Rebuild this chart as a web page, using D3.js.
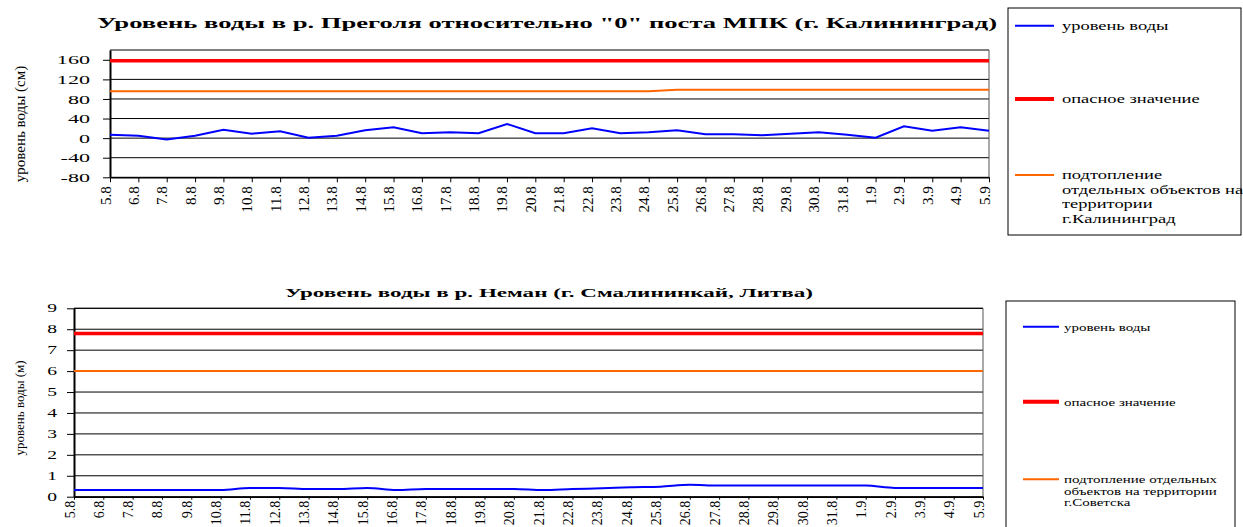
<!DOCTYPE html>
<html>
<head>
<meta charset="utf-8">
<script src="https://cdn.jsdelivr.net/npm/d3@7"></script>
<style>
  body { margin: 0; background: #fff; }
  svg text { font-family: "Liberation Serif", "Times New Roman", serif; fill: #000; }
</style>
</head>
<body>
<script>
const width = 1243,
    height = 527;
const serif = "'Liberation Serif', 'Times New Roman', serif";

// даты наблюдений (ось X одинаковая для обоих графиков)
const dates = ["5.8", "6.8", "7.8", "8.8", "9.8", "10.8", "11.8", "12.8", "13.8", "14.8", "15.8",
  "16.8", "17.8", "18.8", "19.8", "20.8", "21.8", "22.8", "23.8", "24.8", "25.8", "26.8",
  "27.8", "28.8", "29.8", "30.8", "31.8", "1.9", "2.9", "3.9", "4.9", "5.9"];

// р. Преголя, см
const pregolyaLevel = [7, 5, -3, 5, 17, 9, 14, 1, 5, 16, 22, 10, 12, 10, 29, 10, 10, 20, 10, 12, 16, 8,
  8, 6, 9, 12, 7, 1, 24, 15, 22, 15];
const pregolyaDanger = [158, 158, 158, 158, 158, 158, 158, 158, 158, 158, 158, 158, 158, 158, 158, 158,
  158, 158, 158, 158, 158, 158, 158, 158, 158, 158, 158, 158, 158, 158, 158, 158];
const pregolyaFlood = [96, 96, 96, 96, 96, 96, 96, 96, 96, 96, 96, 96, 96, 96, 96, 96, 96, 96, 96, 96,
  99, 99, 99, 99, 99, 99, 99, 99, 99, 99, 99, 99];
const pregolyaTicks = [-80, -40, 0, 40, 80, 120, 160];

// р. Неман, м
const nemanLevel = [0.32, 0.32, 0.32, 0.32, 0.32, 0.32, 0.42, 0.42, 0.37, 0.37, 0.42, 0.32, 0.37, 0.37,
  0.37, 0.37, 0.32, 0.37, 0.40, 0.45, 0.48, 0.57, 0.53, 0.53, 0.53, 0.53, 0.53, 0.53, 0.42, 0.42, 0.42, 0.42];
const nemanDanger = [7.8, 7.8, 7.8, 7.8, 7.8, 7.8, 7.8, 7.8, 7.8, 7.8, 7.8, 7.8, 7.8, 7.8, 7.8, 7.8,
  7.8, 7.8, 7.8, 7.8, 7.8, 7.8, 7.8, 7.8, 7.8, 7.8, 7.8, 7.8, 7.8, 7.8, 7.8, 7.8];
const nemanFlood = [6, 6, 6, 6, 6, 6, 6, 6, 6, 6, 6, 6, 6, 6, 6, 6, 6, 6, 6, 6, 6, 6, 6, 6, 6, 6, 6, 6, 6, 6, 6, 6];
const nemanTicks = [0, 1, 2, 3, 4, 5, 6, 7, 8, 9];

const seriesColors = ["#0000ff", "#ff0000", "#ff6600"];
const pregolyaLegend = [["уровень воды"], ["опасное значение"],
  ["подтопление", "отдельных объектов на", "территории", "г.Калининград"]];
const nemanLegend = [["уровень воды"], ["опасное значение"],
  ["подтопление отдельных", "объектов на территории", "г.Советска"]];

const svg = d3.select("body").append("svg")
    .attr("width", width)
    .attr("height", height);

function drawChart(o) {
  const g = svg.append("g");
  const x = d3.scalePoint().domain(dates).range([o.left, o.right]);
  const y = d3.scaleLinear().domain(o.yDomain).range([o.bottom, o.top]);

  // горизонтальная сетка + верхняя граница
  g.append("g").selectAll("line")
    .data(o.yTicks.concat([o.yDomain[1]]))
    .join("line")
      .attr("x1", o.left).attr("x2", o.right)
      .attr("y1", d => y(d)).attr("y2", d => y(d))
      .attr("stroke", "#000")
      .attr("stroke-width", 1);
  g.append("line")
    .attr("x1", o.right).attr("x2", o.right)
    .attr("y1", o.top).attr("y2", o.bottom)
    .attr("stroke", "#555");

  // ось Y
  const yAxis = g.append("g")
    .attr("transform", `translate(${o.left},0)`)
    .call(d3.axisLeft(y).tickValues(o.yTicks).tickSize(7).tickSizeOuter(0).tickFormat(d => String(d)));
  yAxis.attr("font-family", null).attr("font-size", null);
  yAxis.select(".domain").attr("stroke-width", 2);
  yAxis.selectAll("text")
    .attr("x", 0)
    .style("font-family", serif)
    .style("font-size", o.yFont + "px")
    .attr("transform", `translate(${-o.yGap},0) scale(${o.sx},1)`);

  // ось X
  const xAxis = g.append("g")
    .attr("transform", `translate(0,${o.bottom})`)
    .call(d3.axisBottom(x).tickSize(o.xTick).tickSizeOuter(0));
  xAxis.attr("font-family", null).attr("font-size", null);
  xAxis.select(".domain").attr("stroke-width", 1.5);
  xAxis.selectAll("text")
    .style("font-family", serif)
    .style("font-size", o.xFont + "px")
    .attr("text-anchor", "end")
    .attr("dy", null)
    .attr("y", 0)
    .attr("x", -o.xGap)
    .attr("transform", "rotate(-90)");

  // подпись оси Y
  g.append("text")
    .attr("transform", `translate(${o.yTitleX},${o.yTitleY}) rotate(-90)`)
    .attr("text-anchor", "middle")
    .style("font-family", serif)
    .style("font-size", o.yTitleFont + "px")
    .text(o.yTitle);

  // заголовок
  g.append("text")
    .attr("x", o.titleX)
    .attr("y", o.titleY)
    .attr("text-anchor", "middle")
    .style("font-family", serif)
    .style("font-size", o.titleFont + "px")
    .attr("font-weight", "bold")
    .attr("textLength", o.titleWidth)
    .attr("lengthAdjust", "spacingAndGlyphs")
    .text(o.title);

  // линии: подтопление, опасное значение, уровень
  const widths = [2, 3.5, 2];
  [o.series[2], o.series[1], o.series[0]].forEach(function(s, k) {
    const idx = 2 - k;
    const line = d3.line()
      .x((d, i) => x(dates[i]))
      .y(d => y(d))
      .curve(idx === 0 && o.smooth ? d3.curveMonotoneX : d3.curveLinear);
    g.append("path")
      .datum(s)
      .attr("d", line)
      .attr("fill", "none")
      .attr("stroke", seriesColors[idx])
      .attr("stroke-width", widths[idx]);
  });

  // легенда
  const lg = svg.append("g");
  lg.append("rect")
    .attr("x", o.legend.x).attr("y", o.legend.y)
    .attr("width", o.legend.w).attr("height", o.legend.h)
    .attr("fill", "#fff")
    .attr("stroke", "#000")
    .attr("stroke-width", 1);
  o.legendLabels.forEach(function(lines, i) {
    const ly = o.legend.items[i];
    lg.append("line")
      .attr("x1", o.legend.x + o.legend.l0).attr("x2", o.legend.x + o.legend.l1)
      .attr("y1", ly).attr("y2", ly)
      .attr("stroke", seriesColors[i])
      .attr("stroke-width", i === 1 ? 4 : 2);
    lines.forEach(function(t, j) {
      lg.append("text")
        .attr("transform", `translate(${o.legend.x + o.legend.tx},${ly + 4 + j * o.legend.lh}) scale(${o.legend.sx},1)`)
        .style("font-family", serif)
        .style("font-size", o.legend.font + "px")
        .text(t);
    });
  });
}

drawChart({
  left: 110, right: 989, top: 50, bottom: 177.3,
  yDomain: [-80, 180], yTicks: pregolyaTicks,
  series: [pregolyaLevel, pregolyaDanger, pregolyaFlood],
  yFont: 13, yGap: 20, sx: 1.7,
  xFont: 15, xTick: 5, xGap: 9,
  yTitle: "уровень воды (см)", yTitleX: 25, yTitleY: 124, yTitleFont: 15,
  title: "Уровень воды в р. Преголя относительно \"0\" поста МПК (г. Калининград)",
  titleX: 547, titleY: 28, titleFont: 15, titleWidth: 900,
  smooth: false,
  legendLabels: pregolyaLegend,
  legend: { x: 1008, y: 8, w: 233, h: 227, l0: 7, l1: 46, tx: 54, items: [25.7, 99, 175],
            lh: 14.5, font: 13, sx: 1.42 }
});

drawChart({
  left: 74, right: 983, top: 308.3, bottom: 496.7,
  yDomain: [0, 9], yTicks: nemanTicks,
  series: [nemanLevel, nemanDanger, nemanFlood],
  yFont: 11.5, yGap: 17, sx: 1.7,
  xFont: 14, xTick: 3, xGap: 4,
  yTitle: "уровень воды (м)", yTitleX: 24, yTitleY: 408, yTitleFont: 13,
  title: "Уровень воды в р. Неман (г. Смалининкай, Литва)",
  titleX: 549, titleY: 297, titleFont: 13, titleWidth: 528,
  smooth: true,
  legendLabels: nemanLegend,
  legend: { x: 1006, y: 301, w: 229, h: 240, l0: 17, l1: 53, tx: 58, items: [326.7, 401.7, 479.3],
            lh: 11.5, font: 10, sx: 1.5 }
});
</script>
</body>
</html>
